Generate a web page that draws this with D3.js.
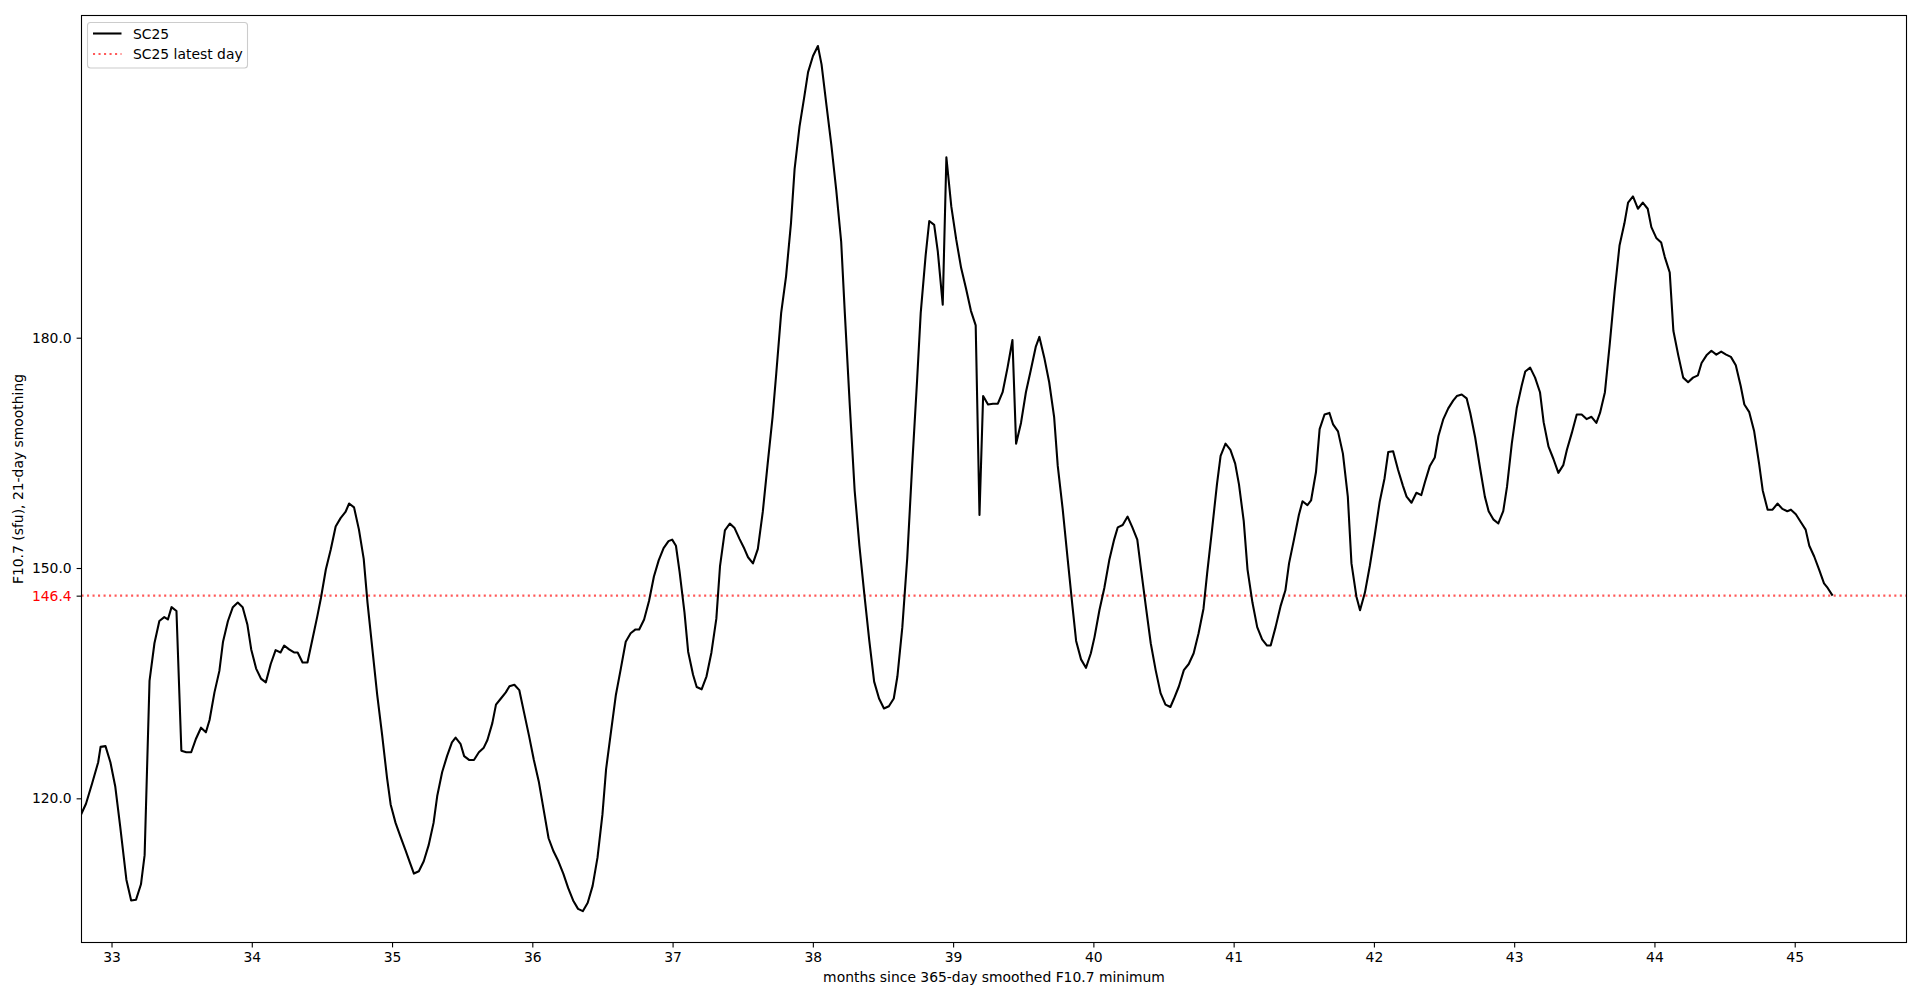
<!DOCTYPE html>
<html>
<head>
<meta charset="utf-8">
<script src="https://cdn.jsdelivr.net/npm/d3@7"></script>
<style>
  html, body { margin: 0; padding: 0; background: #fff; }
  svg { display: block; font-family: "DejaVu Sans", sans-serif; }
</style>
</head>
<body>
<svg id="chart" width="1920" height="1000"></svg>
<script>
// ---- data ----
const months = [
32.783,32.818,32.861,32.905,32.922,32.957,32.992,33.027,33.062,33.106,33.140,33.175,33.210,33.236,33.271,33.306,33.341,33.376,33.402,33.428,33.463,
33.498,33.533,33.568,33.603,33.638,33.673,33.699,33.734,33.769,33.795,33.830,33.865,33.900,33.935,33.969,33.996,34.031,34.065,34.100,34.135,34.170,34.205,34.231,34.266,34.301,34.327,34.362,34.397,34.432,34.467,34.493,34.528,34.563,34.598,34.633,34.668,34.694,34.729,34.764,34.798,34.825,34.860,34.894,34.929,34.964,34.990,
35.025,35.060,35.095,35.130,35.156,35.191,35.226,35.261,35.296,35.322,35.357,35.392,35.427,35.453,35.488,35.514,35.549,35.584,35.619,35.654,35.680,35.715,35.741,35.776,35.811,35.837,35.872,35.907,35.942,35.977,
36.011,36.046,36.081,36.116,36.151,36.186,36.221,36.256,36.291,36.326,36.360,36.395,36.430,36.465,36.500,36.526,36.561,36.596,36.631,36.666,36.701,36.736,36.762,36.797,36.832,36.867,36.901,36.936,36.971,36.997,
37.024,37.050,37.085,37.111,37.146,37.172,37.207,37.242,37.277,37.312,37.338,37.373,37.408,37.442,37.477,37.512,37.538,37.573,37.608,37.643,37.678,37.713,37.739,37.774,37.809,37.844,37.870,37.905,37.940,37.966,
38.001,38.036,38.062,38.097,38.132,38.167,38.202,38.228,38.263,38.298,38.332,38.367,38.402,38.437,38.472,38.507,38.542,38.577,38.603,38.638,38.673,38.708,38.743,38.769,38.804,38.830,38.865,38.891,38.926,38.952,38.987,
39.022,39.057,39.092,39.127,39.161,39.188,39.214,39.249,39.284,39.319,39.353,39.388,39.423,39.449,39.484,39.519,39.554,39.589,39.615,39.650,39.685,39.720,39.746,39.781,39.816,39.851,39.877,39.912,39.947,39.982,
40.008,40.043,40.078,40.113,40.148,40.174,40.209,40.244,40.278,40.313,40.340,40.374,40.409,40.444,40.479,40.514,40.549,40.575,40.610,40.645,40.680,40.715,40.750,40.785,40.811,40.846,40.881,40.907,40.942,40.977,
41.011,41.038,41.072,41.099,41.134,41.168,41.203,41.238,41.264,41.299,41.334,41.369,41.395,41.430,41.465,41.491,41.526,41.552,41.587,41.613,41.648,41.683,41.709,41.744,41.779,41.814,41.840,41.875,41.901,41.936,41.971,
42.006,42.041,42.076,42.102,42.137,42.172,42.207,42.233,42.268,42.303,42.338,42.364,42.399,42.434,42.460,42.495,42.530,42.565,42.591,42.626,42.661,42.687,42.722,42.757,42.791,42.818,42.853,42.887,42.922,42.949,42.983,
43.018,43.053,43.079,43.114,43.149,43.184,43.210,43.245,43.280,43.315,43.350,43.376,43.411,43.446,43.481,43.516,43.551,43.586,43.612,43.647,43.682,43.716,43.751,43.786,43.812,43.847,43.882,43.917,43.952,43.978,
44.013,44.048,44.074,44.109,44.135,44.170,44.205,44.240,44.275,44.310,44.336,44.371,44.406,44.441,44.476,44.511,44.545,44.580,44.615,44.641,44.676,44.711,44.746,44.772,44.807,44.842,44.877,44.912,44.947,44.973,
45.008,45.043,45.078,45.104,45.139,45.174,45.209,45.235,45.270
];
const f107 = [
117.9,119.3,121.9,124.7,126.7,126.8,124.7,121.5,116.3,109.4,106.7,106.8,108.8,112.6,135.3,140.2,143.1,143.6,143.3,144.9,144.4,
126.2,126.0,126.0,127.8,129.2,128.6,130.2,133.8,136.6,140.4,143.1,144.9,145.5,144.9,142.6,139.4,136.9,135.6,135.1,137.5,139.3,139.0,139.9,139.4,139.0,139.0,137.7,137.7,140.7,143.7,146.1,149.8,152.4,155.4,156.5,157.3,158.4,157.9,155.0,151.2,145.5,139.4,133.5,128.3,122.7,119.2,
116.8,115.0,113.3,111.5,110.2,110.5,111.8,113.9,116.8,120.3,123.4,125.5,127.3,127.9,127.1,125.5,125.0,125.0,126.0,126.6,127.6,129.8,132.2,133.0,133.8,134.6,134.8,134.1,131.1,128.1,
125.0,122.2,118.5,114.8,113.1,111.8,110.2,108.3,106.7,105.6,105.3,106.4,108.6,112.3,117.9,123.8,128.7,133.5,136.9,140.4,141.5,142.0,142.0,143.3,145.7,148.9,151.0,152.6,153.5,153.7,
152.9,149.5,144.2,139.1,136.1,134.5,134.2,135.9,139.0,143.4,150.2,154.9,155.8,155.2,153.8,152.5,151.4,150.6,152.5,157.3,163.6,169.7,175.3,183.2,188.0,194.9,202.0,207.5,211.5,214.6,
216.7,218.0,215.6,210.3,205.1,199.2,192.5,183.2,171.3,160.1,152.9,146.6,140.6,135.2,133.0,131.7,132.0,133.0,135.9,142.3,151.3,163.3,174.4,183.2,190.7,195.2,194.7,191.2,184.3,203.5,197.1,
192.8,189.1,186.4,183.5,181.6,156.9,172.4,171.3,171.4,171.4,172.9,176.1,179.7,166.2,168.9,172.9,175.8,178.8,180.1,177.4,174.2,169.7,163.3,157.7,151.3,145.0,140.5,138.1,137.0,138.9,
141.0,144.5,147.4,151.0,153.7,155.3,155.6,156.7,155.3,153.7,149.8,145.0,140.2,136.7,133.7,132.2,131.9,133.0,134.6,136.7,137.5,138.9,141.5,144.7,149.3,155.0,160.9,164.6,166.2,165.4,
163.6,160.9,156.1,149.8,145.5,142.3,140.7,139.9,139.9,142.3,145.0,147.1,150.6,153.7,156.9,158.7,158.2,158.8,162.5,168.1,170.0,170.2,168.7,167.8,164.9,159.3,150.6,146.3,144.5,146.8,150.3,
154.3,158.6,161.7,165.1,165.2,162.8,160.7,159.3,158.5,159.8,159.5,161.2,163.3,164.4,167.2,169.4,170.8,171.8,172.4,172.6,172.1,170.2,167.0,163.0,159.3,157.4,156.3,155.8,157.4,160.6,166.2,
170.8,173.7,175.6,176.1,174.8,172.9,169.0,165.8,164.2,162.4,163.4,165.4,167.6,170.0,170.0,169.4,169.7,168.9,170.2,172.9,179.3,186.0,192.0,194.9,197.6,198.4,196.8,197.6,196.8,194.4,
193.0,192.4,190.5,188.5,180.9,177.7,174.8,174.2,174.8,175.1,176.7,177.7,178.3,177.8,178.2,177.8,177.5,176.4,173.7,171.3,170.3,167.8,163.6,160.1,157.6,157.6,158.4,157.7,157.4,157.6,
157.0,156.0,155.0,152.9,151.5,149.8,148.0,147.4,146.4
];
const latestDay = 146.4;
const xTicks = [33,34,35,36,37,38,39,40,41,42,43,44,45];
const yTicks = [120, 150, 180];
const xDomain = [32.786, 45.797];
const yDomain = [101.22, 221.97];
const seriesLabel = "SC25";
const latestLabel = "SC25 latest day";
const xLabel = "months since 365-day smoothed F10.7 minimum";
const yLabel = "F10.7 (sfu), 21-day smoothing";

// ---- layout ----
const W = 1920, H = 1000;
const plot = { left: 81.5, right: 1906.5, top: 15.5, bottom: 942.5 };
const FS = 13.9;

const svg = d3.select("#chart");
const x = d3.scaleLinear().domain(xDomain).range([plot.left, plot.right]);
const y = d3.scaleLinear().domain(yDomain).range([plot.bottom, plot.top]);

const data = d3.zip(months, f107);

svg.append("defs").append("clipPath").attr("id", "clip")
  .append("rect").attr("x", plot.left).attr("y", plot.top)
  .attr("width", plot.right - plot.left).attr("height", plot.bottom - plot.top);

const g = svg.append("g").attr("clip-path", "url(#clip)");

// latest day reference line
g.append("line")
  .attr("x1", plot.left).attr("x2", plot.right)
  .attr("y1", y(latestDay)).attr("y2", y(latestDay))
  .attr("stroke", "#ff0000").attr("stroke-opacity", 0.65)
  .attr("stroke-width", 2.08)
  .attr("stroke-dasharray", "2.08,3.43");

// main series
g.append("path")
  .datum(data)
  .attr("fill", "none")
  .attr("stroke", "#000")
  .attr("stroke-width", 2.08)
  .attr("stroke-linejoin", "round")
  .attr("stroke-linecap", "butt")
  .attr("d", d3.line().x(d => x(d[0])).y(d => y(d[1])));

// axes
const xAxis = svg.append("g")
  .attr("transform", `translate(0,${plot.bottom})`)
  .call(d3.axisBottom(x).tickValues(xTicks).tickFormat(d3.format("d")).tickSize(4.9).tickPadding(4.6).tickSizeOuter(0));
const yAxis = svg.append("g")
  .attr("transform", `translate(${plot.left},0)`)
  .call(d3.axisLeft(y).tickValues(yTicks.concat([latestDay])).tickFormat(d3.format(".1f")).tickSize(4.9).tickPadding(4.9).tickSizeOuter(0));

[xAxis, yAxis].forEach(a => {
  a.select(".domain").remove();
  a.selectAll(".tick line").attr("stroke", "#000").attr("stroke-width", 1.1);
  a.selectAll(".tick text").attr("fill", "#000").style("font-size", FS + "px").style("font-family", "DejaVu Sans");
});
yAxis.selectAll(".tick text").filter(d => d === latestDay).attr("fill", "#ff0000");

// frame
svg.append("rect")
  .attr("x", plot.left).attr("y", plot.top)
  .attr("width", plot.right - plot.left).attr("height", plot.bottom - plot.top)
  .attr("fill", "none").attr("stroke", "#000").attr("stroke-width", 1.1);

// axis labels
svg.append("text")
  .attr("x", (plot.left + plot.right) / 2).attr("y", 982)
  .attr("text-anchor", "middle").style("font-size", FS + "px")
  .text(xLabel);
svg.append("text")
  .attr("transform", `translate(23,${(plot.top + plot.bottom) / 2}) rotate(-90)`)
  .attr("text-anchor", "middle").style("font-size", FS + "px")
  .text(yLabel);

// legend
const lg = svg.append("g");
lg.append("rect")
  .attr("x", 87.5).attr("y", 22.5).attr("width", 160).attr("height", 45.5)
  .attr("rx", 3).attr("ry", 3)
  .attr("fill", "#fff").attr("fill-opacity", 0.8)
  .attr("stroke", "#cccccc").attr("stroke-width", 1.1);
const items = [
  { label: seriesLabel, color: "#000", opacity: 1, dash: null, yy: 33.5 },
  { label: latestLabel, color: "#ff0000", opacity: 0.65, dash: "2.08,3.43", yy: 54 }
];
items.forEach(it => {
  lg.append("line")
    .attr("x1", 93).attr("x2", 121.5).attr("y1", it.yy).attr("y2", it.yy)
    .attr("stroke", it.color).attr("stroke-opacity", it.opacity)
    .attr("stroke-width", 2.08)
    .attr("stroke-dasharray", it.dash);
  lg.append("text")
    .attr("x", 133).attr("y", it.yy + 5)
    .style("font-size", FS + "px")
    .text(it.label);
});
</script>
</body>
</html>
